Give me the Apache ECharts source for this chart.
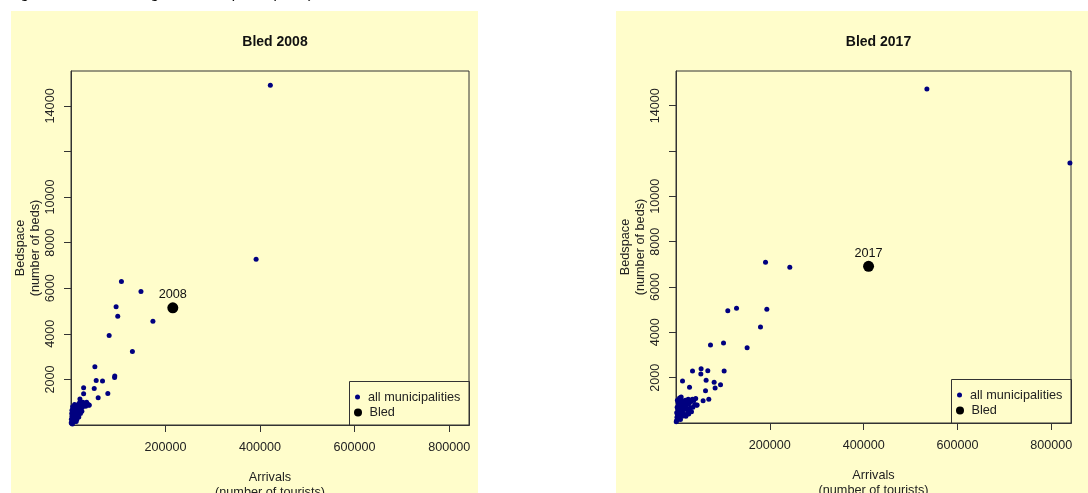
<!DOCTYPE html>
<html>
<head>
<meta charset="utf-8">
<script src="https://cdn.jsdelivr.net/npm/echarts@6/dist/echarts.min.js"></script>
<style>
html,body{margin:0;padding:0;background:#fff;}
#c{width:1088px;height:493px;}
</style>
</head>
<body>
<div id="c"></div>
<script>
// ---- data (arrivals, beds) ----
const caption = 'Figure 39: Arrivals against bedspace (Bled)';
const titles = ['Bled 2008', 'Bled 2017'];
const bledLabels = ['2008', '2017'];
const xTicks = [200000, 400000, 600000, 800000];
const yTicks = [2000, 4000, 6000, 8000, 10000, 12000, 14000];
const yLabels = [2000, 4000, 6000, 8000, 10000, 14000];
const xMax = 842000;
const yMax = 15530;

const muni2008 = [
  [421700,14908],[391600,7276],[106700,6298],[148000,5860],[95400,5184],[98900,4776],
  [173300,4557],[80700,3930],[129900,3228],[50500,2553],[92600,2145],[92200,2088],
  [53300,1956],[66700,1925],[49100,1605],[26700,1632],[77900,1386],[57500,1193],
  [26700,1368],[18900,1136],[38500,873],[36000,900],
  [1200,80],[2500,150],[3000,300],[4000,220],[5000,450],[6000,380],[7000,600],[8000,520],
  [9000,300],[10000,700],[11000,480],[12000,820],[13000,650],[14000,400],[15000,900],
  [16000,560],[17000,750],[18000,980],[19000,620],[20000,840],[21000,700],[22000,900],
  [24000,780],[25000,1000],[27000,880],[29000,950],[31000,820],[33000,1000],[38000,870],
  [1500,500],[2000,650],[3500,800],[800,250],[500,100],[6500,150],[9500,180],[4500,700],
  [2000,380],[12500,250],[7500,900],[16500,350],[3000,40],[11000,150],[20000,500],[23000,600]
];
const bled2008 = [[215400,5140]];

const muni2017 = [
  [534800,14736],[839700,11471],[190800,7090],[242600,6869],[129000,5060],[110400,4955],
  [193600,5015],[180100,4236],[73500,3441],[101300,3530],[151600,3323],[35200,2294],
  [53500,2396],[67800,2308],[102600,2294],[52900,2162],[13900,1853],[64200,1883],
  [81300,1795],[94900,1690],[83400,1544],[28800,1575],[62900,1425],[69900,1046],
  [57800,984],[45000,794],[29400,574],[25800,454],
  [1000,100],[2000,250],[3000,400],[3500,150],[4000,600],[5000,300],[6000,800],[7000,500],
  [8000,950],[9000,650],[10000,400],[11000,750],[12000,1000],[13000,550],[14000,850],
  [15000,700],[16000,950],[18000,600],[19000,800],[20000,1000],[22000,750],[24000,900],
  [26000,1050],[28000,850],[30000,1000],[32000,950],[35000,1050],[38000,1000],[42000,1080],
  [25000,600],[27000,400],[30000,650],[36000,700],[40000,820],[2500,700],[1500,450],
  [500,50],[6500,200],[9500,150],[13000,300],[17000,400],[21000,300],[4500,900],
  [7500,1100],[11000,1150],[33000,500],[44000,780],[3000,1000]
];
const bled2017 = [[410450,6914]];

// ---- layout ----
const FONT = '"Liberation Sans", Arial, Helvetica, sans-serif';
const BG = '#fffdcb';
const INK = '#333';
const grids = [
  {left: 71, top: 71, width: 398, height: 354},
  {left: 676, top: 71, width: 395, height: 352}
];
const panels = [
  {x: 11, y: 11, w: 467, h: 482},
  {x: 616, y: 11, w: 472, h: 482}
];
const legW = 120, legH = 44;

const muni = [muni2008, muni2017];
const bled = [bled2008, bled2017];
const plain = v => String(v);

const option = {
  backgroundColor: '#fff',
  animation: false,
  textStyle: {fontFamily: FONT},
  title: grids.map((g, i) => ({
    text: titles[i],
    left: g.left + g.width / 2,
    textAlign: 'center',
    top: 30,
    textStyle: {fontFamily: FONT, fontSize: 14, fontWeight: 'bold', color: '#111'}
  })),
  grid: grids.map(g => ({
    left: g.left, top: g.top, width: g.width, height: g.height,
    outerBoundsMode: 'none', containLabel: false,
    show: true, borderColor: INK, borderWidth: 1, backgroundColor: 'transparent'
  })),
  xAxis: grids.map((g, i) => ({
    type: 'value', gridIndex: i, min: 0, max: xMax,
    name: 'Arrivals\n(number of tourists)', nameLocation: 'middle', nameGap: 45,
    nameTextStyle: {fontFamily: FONT, fontSize: 12.7, color: '#222', lineHeight: 15},
    axisLine: {show: true, lineStyle: {color: INK}},
    axisTick: {show: true, inside: false, length: 7, lineStyle: {color: INK}, customValues: xTicks},
    axisLabel: {show: true, margin: 16, fontSize: 12.6, color: '#222', fontFamily: FONT,
                customValues: xTicks, formatter: plain, verticalAlign: 'top'},
    splitLine: {show: false}
  })),
  yAxis: grids.map((g, i) => ({
    type: 'value', gridIndex: i, min: 0, max: yMax,
    name: 'Bedspace\n(number of beds)', nameLocation: 'middle', nameGap: 28, nameRotate: 90,
    nameTextStyle: {fontFamily: FONT, fontSize: 12.7, color: '#222', lineHeight: 15},
    axisLine: {show: true, lineStyle: {color: INK}},
    axisTick: {show: true, inside: false, length: 7, lineStyle: {color: INK}, customValues: yTicks},
    axisLabel: {show: true, margin: 14, rotate: 90, fontSize: 12.6, color: '#222', fontFamily: FONT,
                customValues: yLabels, formatter: plain, align: 'center', verticalAlign: 'bottom'},
    splitLine: {show: false}
  })),
  legend: [].concat(...grids.map((g, i) => {
    const lx = g.left + g.width - legW;
    const ly = g.top + g.height - legH;
    return [
      {data: ['all municipalities'], selectedMode: false, orient: 'vertical', padding: 0,
       left: lx + 6, top: ly + 9.5, itemWidth: 11, itemHeight: 5, icon: 'circle',
       textStyle: {fontFamily: FONT, fontSize: 12.7, color: '#222'}},
      {data: ['Bled'], selectedMode: false, orient: 'vertical', padding: 0,
       left: lx + 5, top: ly + 25, itemWidth: 13, itemHeight: 8, icon: 'circle',
       textStyle: {fontFamily: FONT, fontSize: 12.7, color: '#222'}}
    ];
  })),
  graphic: [
    ...panels.map(p => ({type: 'rect', z: -10, silent: true,
      shape: {x: p.x, y: p.y, width: p.w, height: p.h}, style: {fill: BG}})),
    ...grids.map(g => ({type: 'rect', z: 5, silent: true,
      shape: {x: g.left + g.width - legW + 0.5, y: g.top + g.height - legH + 0.5, width: legW, height: legH},
      style: {fill: 'none', stroke: INK, lineWidth: 1}})),
    {type: 'text', left: 8, top: -14, silent: true,
     style: {text: caption, fontFamily: FONT, fontSize: 16, fontStyle: 'italic', fill: '#111'}}
  ],
  series: [].concat(...grids.map((g, i) => [
    {name: 'all municipalities', type: 'scatter', xAxisIndex: i, yAxisIndex: i,
     data: muni[i], symbol: 'circle', symbolSize: 5, silent: true,
     itemStyle: {color: '#000080', opacity: 1}},
    {name: 'Bled', type: 'scatter', xAxisIndex: i, yAxisIndex: i,
     data: bled[i], symbol: 'circle', symbolSize: 11, silent: true,
     itemStyle: {color: '#000', opacity: 1},
     label: {show: true, position: 'top', distance: 1, formatter: bledLabels[i],
             fontFamily: FONT, fontSize: 12.7, color: '#111'}}
  ]))
};

const chart = echarts.init(document.getElementById('c'), null, {renderer: 'canvas'});
chart.setOption(option);
</script>
</body>
</html>
